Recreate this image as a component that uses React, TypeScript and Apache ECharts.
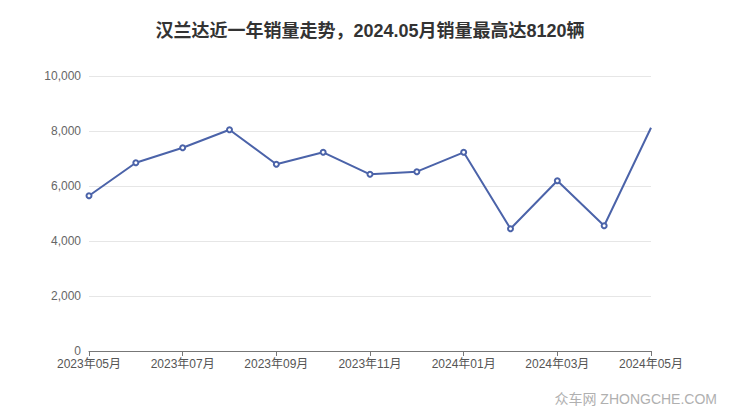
import React, { useEffect, useRef } from "react";
import * as echarts from "echarts";

const categories = [
  "2023年05月", "2023年06月", "2023年07月", "2023年08月", "2023年09月", "2023年10月",
  "2023年11月", "2023年12月", "2024年01月", "2024年02月", "2024年03月", "2024年04月", "2024年05月",
];
const sales = [5647, 6847, 7393, 8047, 6789, 7225, 6425, 6520, 7225, 4447, 6193, 4556, 8120];
const titleText = "汉兰达近一年销量走势，2024.05月销量最高达8120辆";
const watermark = "众车网 ZHONGCHE.COM";

const labelFont = "'Liberation Sans', 'Noto Sans CJK SC', sans-serif";

export default function App() {
  const ref = useRef<HTMLDivElement>(null);
  useEffect(() => {
    if (!ref.current) return;
    const chart = echarts.init(ref.current, null, { renderer: "svg" });
    chart.setOption({
      animation: false,
      backgroundColor: "#fff",
      title: {
        text: titleText,
        left: "center",
        top: 17,
        textStyle: { fontSize: 18, fontWeight: "bold", color: "#333", fontFamily: labelFont },
      },
      graphic: [
        {
          type: "text",
          right: 23,
          top: 392,
          style: { text: watermark, fill: "#b0b0b0", fontSize: 14, fontFamily: labelFont },
        },
      ],
      grid: { left: 89, right: 89, top: 76, bottom: 66 },
      xAxis: {
        type: "category",
        data: categories,
        boundaryGap: false,
        axisLine: { lineStyle: { color: "#777" } },
        axisTick: { interval: 1, lineStyle: { color: "#777" } },
        axisLabel: { interval: 1, color: "#555", fontSize: 12, margin: 7, fontFamily: labelFont },
      },
      yAxis: {
        type: "value",
        min: 0,
        max: 10000,
        interval: 2000,
        axisLine: { show: false },
        axisTick: { show: false },
        axisLabel: { color: "#666", fontSize: 12, margin: 8, fontFamily: labelFont },
        splitLine: { lineStyle: { color: "#e6e6e6" } },
      },
      series: [
        {
          type: "line",
          data: sales.map((v, i) => (i === sales.length - 1 ? { value: v, symbol: "none" } : v)),
          symbol: "emptyCircle",
          symbolSize: 5,
          lineStyle: { color: "#4b63a9", width: 2 },
          itemStyle: { color: "#4b63a9", borderWidth: 1.5 },
        },
      ],
    });
    return () => chart.dispose();
  }, []);
  return (
    <div
      ref={ref}
      style={{ position: "absolute", left: 0, top: 0, width: 740, height: 417 }}
    />
  );
}
